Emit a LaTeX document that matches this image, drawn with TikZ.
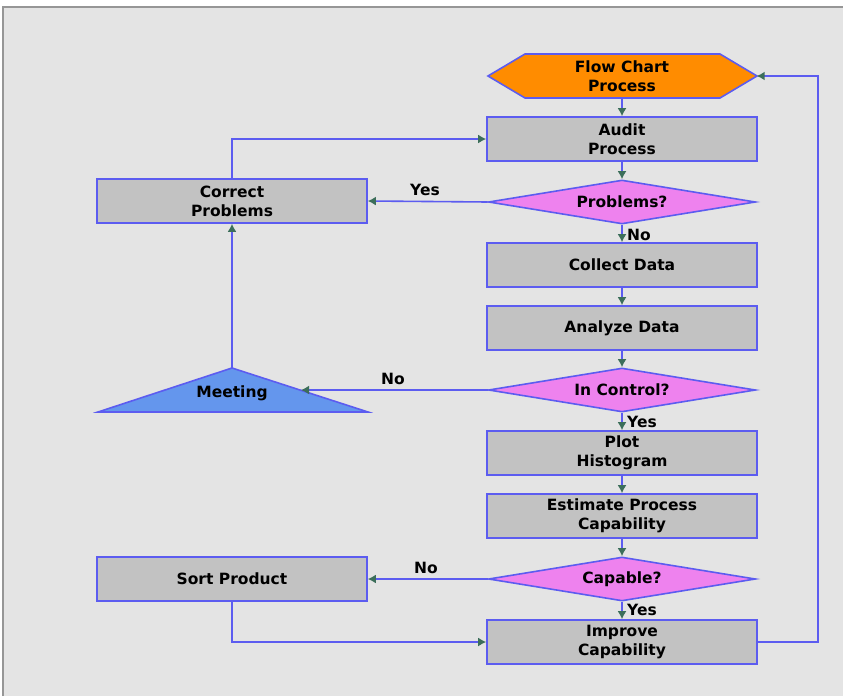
\documentclass[tikz,border=0pt]{standalone}
\usepackage{fontspec}
\newfontfamily\chartfont{DejaVu Sans}
\usetikzlibrary{shapes.geometric,arrows.meta}
\definecolor{linec}{RGB}{92,92,240}
\definecolor{tipc}{RGB}{60,110,90}
\definecolor{boxc}{RGB}{194,194,194}
\definecolor{hexc}{RGB}{255,140,0}
\definecolor{decc}{RGB}{238,130,238}
\definecolor{meetc}{RGB}{100,150,237}
\definecolor{paper}{RGB}{228,228,228}
\definecolor{framec}{RGB}{150,150,150}
\tikzset{
  txt/.style={font=\chartfont\bfseries\fontsize{15.5}{19}\selectfont, align=center, text=black},
  procbox/.style={txt, draw=linec, line width=1.6pt, fill=boxc, minimum width=270pt, minimum height=44pt, inner sep=0pt},
  decision/.style={txt, diamond, draw=linec, line width=1.6pt, fill=decc, aspect=6, minimum width=267pt, minimum height=44pt, inner sep=0pt},
  flowline/.style={draw=linec, line width=1.6pt},
  flowarrow/.style={flowline, -{Latex[length=8pt,width=9pt,color=tipc]}},
  lbl/.style={txt, inner sep=0pt}
}
\begin{document}
\begin{tikzpicture}[x=1pt,y=-1pt]
        \useasboundingbox (0,0) rectangle (843,696);
        \fill[white] (0,0) rectangle (843,696);
        \fill[paper] (3,7) rectangle (843,696);
        \draw[framec, line width=1.2pt] (3,696) -- (3,7) -- (843,7);
        % start and meeting shapes
        \draw[flowline, fill=hexc] (488,76) -- (525,54) -- (720,54) -- (757,76) -- (720,98) -- (525,98) -- cycle;
        \draw[flowline, fill=meetc] (98,412) -- (232,368) -- (368,412) -- cycle;
        \node[txt, minimum width=269pt, minimum height=44pt, inner sep=0pt] (flow) at (622,76) {Flow Chart\\Process};
        \node[txt] (meet) at (232,393) {Meeting};
        \coordinate (meettop) at (232,368);
        \coordinate (meetside) at (301,390);
        % main column
        \node[procbox] (audit) at (622,139) {Audit\\Process};
        \node[decision] (problems) at (622,202) {Problems?};
        \node[procbox] (collect) at (622,265) {Collect Data};
        \node[procbox] (analyze) at (622,328) {Analyze Data};
        \node[decision] (incontrol) at (622,390) {In Control?};
        \node[procbox] (plot) at (622,453) {Plot\\Histogram};
        \node[procbox] (estimate) at (622,516) {Estimate Process\\Capability};
        \node[decision] (capable) at (622,579) {Capable?};
        \node[procbox] (improve) at (622,642) {Improve\\Capability};
        % side boxes
        \node[procbox] (correct) at (232,201) {Correct\\Problems};
        \node[procbox] (sortp) at (232,579) {Sort Product};
        \coordinate (back) at (818,642);
        % connectors
        \foreach \a/\b in {flow/audit, audit/problems, problems/collect, collect/analyze, analyze/incontrol, incontrol/plot, plot/estimate, estimate/capable, capable/improve} {
            \draw[flowarrow] (\a) -- (\b);
        }
        \draw[flowarrow] (problems.west) -- (correct.east);
        \draw[flowarrow] (correct.north) |- (audit.west);
        \draw[flowarrow] (incontrol.west) -- (meetside);
        \draw[flowarrow] (meettop) -- (correct.south);
        \draw[flowarrow] (capable.west) -- (sortp.east);
        \draw[flowarrow] (sortp.south) |- (improve.west);
        \draw[flowarrow] (improve.east) -- (back) |- (flow.east);
        % labels
        \node[lbl] (yes1) at (425,190) {Yes};
        \node[lbl, anchor=west] (no1) at (627,235) {No};
        \node[lbl] (no2) at (393,379) {No};
        \node[lbl, anchor=west] (yes2) at (627,422) {Yes};
        \node[lbl] (no3) at (426,568) {No};
        \node[lbl, anchor=west] (yes3) at (627,610) {Yes};
    \end{tikzpicture}
\end{document}
